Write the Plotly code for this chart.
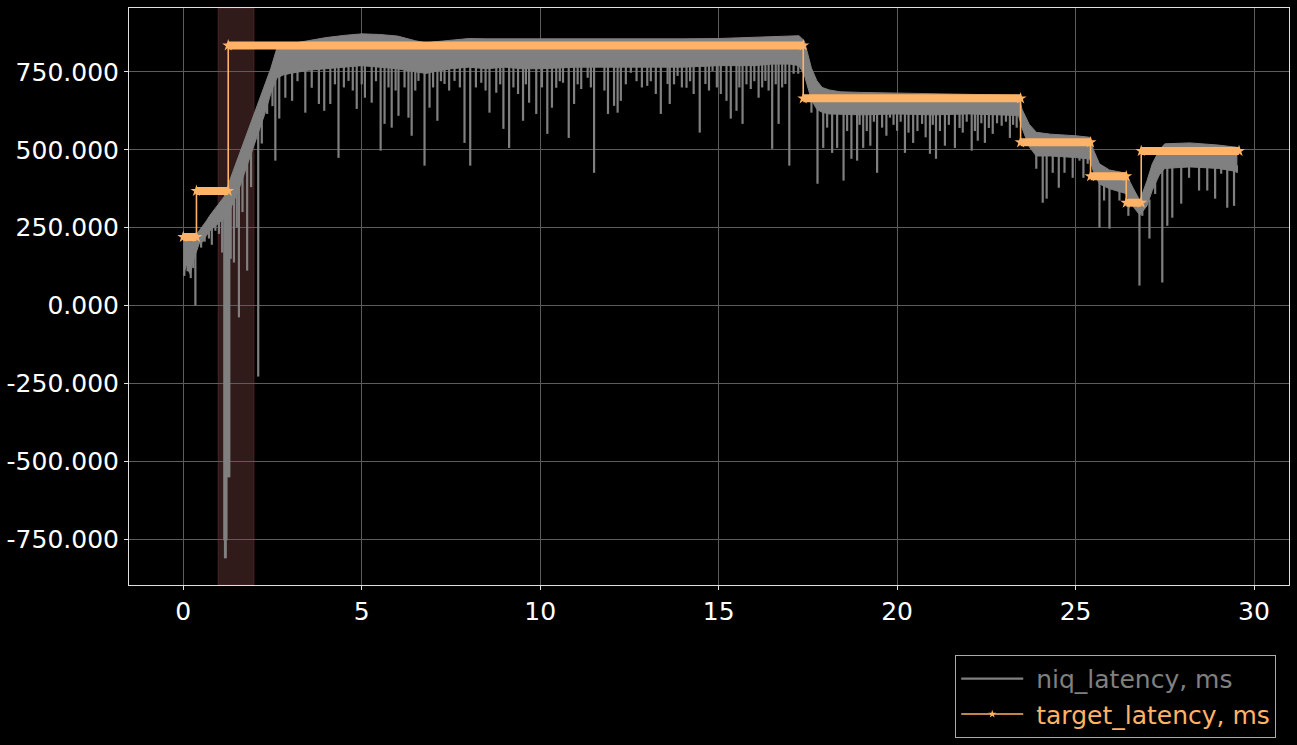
import plotly.graph_objects as go

# ---------------- data ----------------
# niq_latency, ms : dense band (upper envelope / lower edge of the dense part)
env_t = [0.00, 0.05, 0.10, 0.15, 0.20, 0.25, 0.30,
         0.37, 0.45, 0.55, 0.65, 0.75, 0.85, 0.95, 1.05, 1.15,
         1.28, 1.40, 1.55, 1.70, 1.85, 2.00, 2.15, 2.30, 2.45, 2.62,
         2.80, 3.00, 3.50, 4.00, 4.50, 5.00, 5.50, 6.00, 6.50, 6.80,
         7.00, 7.50, 8.00, 8.50, 9.00, 9.50, 10.0, 11.0, 12.0, 13.0,
         14.0, 15.0, 16.0, 16.5, 17.0, 17.25, 17.40, 17.50, 17.60, 17.75,
         17.90, 18.10, 18.40, 19.0, 20.0, 21.0, 22.0, 23.0, 23.40, 23.50,
         23.70, 23.90, 24.30, 25.00, 25.40, 25.50, 25.67, 25.95, 26.40, 26.60,
         26.80, 27.00, 27.15, 27.35, 27.50, 28.20, 29.00, 29.52]
env_top = [222, 222, 222, 222, 222, 222, 222,
           228, 240, 258, 272, 290, 305, 320, 335, 350,
           395, 432, 478, 525, 572, 620, 666, 712, 760, 825,
           835, 840, 850, 860, 867, 872, 870, 865, 850, 843,
           846, 852, 857, 856, 856, 855, 855, 855, 854, 855,
           856, 857, 860, 862, 864, 866, 850, 805, 762, 722,
           700, 692, 686, 684, 682, 680, 678, 676, 675, 630,
           582, 556, 550, 545, 540, 500, 455, 435, 425, 380,
           337, 400, 455, 500, 519, 522, 515, 508]
env_low = [100, 115, 135, 110, 100, 130, 150,
           175, 200, 205, 225, 240, 250, 260, 270, 280,
           300, 330, 370, 420, 470, 520, 570, 620, 680, 730,
           740, 745, 755, 760, 765, 770, 765, 760, 750, 745,
           750, 760, 765, 760, 765, 760, 760, 765, 765, 765,
           765, 770, 770, 775, 775, 770, 740, 700, 660, 630,
           620, 615, 615, 612, 615, 612, 615, 612, 610, 570,
           510, 480, 480, 475, 470, 430, 390, 375, 360, 320,
           290, 320, 370, 420, 440, 445, 440, 430]

# niq_latency, ms : downward spikes (time, level inside band, spike minimum)
niq_spikes = [
    (0.03, 150, 95), (0.12, 150, 110), (0.21, 150, 88), (0.28, 160, 120),
    (0.34, 180, 0), (0.50, 215, 186), (0.60, 230, 205), (0.72, 250, 215),
    (0.80, 260, 195), (0.90, 270, 240), (1.00, 280, 230), (1.09, 300, 170),
    (1.15, 310, -753), (1.17, 310, -811), (1.19, 310, -811), (1.21, 310, -753),
    (1.23, 320, -551), (1.26, 320, -551), (1.29, 320, -551), (1.33, 330, 150),
    (1.42, 360, 138), (1.50, 390, 250), (1.56, 400, -38), (1.66, 440, 300),
    (1.79, 480, 112), (1.90, 520, 380), (2.10, 580, -228), (2.20, 620, 520),
    (2.35, 660, 615), (2.50, 700, 640), (2.58, 740, 465), (2.69, 760, 600),
    (2.86, 790, 667), (3.05, 790, 657), (3.20, 790, 720), (3.42, 790, 619),
    (3.60, 790, 699), (3.80, 790, 647), (3.95, 790, 625), (4.12, 790, 647),
    (4.25, 790, 710), (4.35, 790, 474), (4.50, 790, 700), (4.63, 790, 721),
    (4.75, 790, 690), (4.86, 790, 631), (5.00, 790, 710), (5.09, 790, 667),
    (5.28, 790, 651), (5.40, 790, 720), (5.53, 790, 497), (5.64, 790, 583),
    (5.75, 790, 700), (5.84, 790, 571), (5.95, 790, 690), (6.03, 790, 609),
    (6.20, 790, 700), (6.31, 790, 603), (6.40, 790, 545), (6.50, 790, 690),
    (6.59, 790, 721), (6.76, 790, 449), (6.90, 790, 635), (7.00, 790, 700),
    (7.12, 790, 593), (7.22, 790, 720), (7.32, 790, 711), (7.45, 790, 690),
    (7.60, 790, 721), (7.75, 790, 700), (7.88, 790, 522), (8.04, 790, 449),
    (8.20, 790, 700), (8.35, 790, 715), (8.47, 790, 690), (8.58, 790, 619),
    (8.77, 790, 683), (8.88, 790, 710), (8.97, 790, 567), (9.13, 790, 506),
    (9.25, 790, 700), (9.38, 790, 679), (9.52, 790, 593), (9.60, 790, 710),
    (9.69, 790, 651), (9.89, 790, 615), (10.05, 790, 700), (10.20, 790, 551),
    (10.33, 790, 635), (10.45, 790, 699), (10.55, 790, 720), (10.64, 790, 715),
    (10.80, 790, 538), (10.95, 790, 647), (11.05, 790, 710), (11.15, 790, 695),
    (11.33, 790, 731), (11.42, 790, 700), (11.51, 790, 426), (11.70, 790, 776),
    (11.80, 790, 690), (11.90, 790, 615), (12.07, 790, 641), (12.17, 790, 619),
    (12.26, 790, 657), (12.40, 790, 710), (12.54, 790, 747), (12.70, 790, 720),
    (12.85, 790, 700), (13.00, 790, 705), (13.10, 790, 720), (13.24, 790, 679),
    (13.38, 790, 615), (13.57, 790, 711), (13.63, 790, 647), (13.75, 790, 710),
    (13.85, 790, 737), (13.97, 790, 700), (14.10, 790, 699), (14.20, 790, 720),
    (14.30, 790, 679), (14.47, 790, 555), (14.63, 790, 711), (14.73, 790, 690),
    (14.83, 790, 753), (14.95, 790, 700), (15.06, 790, 679), (15.22, 790, 657),
    (15.34, 790, 600), (15.50, 790, 625), (15.58, 790, 700), (15.67, 790, 583),
    (15.78, 790, 710), (15.90, 790, 695), (16.00, 790, 720), (16.12, 790, 667),
    (16.22, 790, 700), (16.31, 790, 721), (16.40, 790, 690), (16.50, 790, 503),
    (16.60, 790, 710), (16.68, 790, 583), (16.78, 790, 700), (16.87, 790, 711),
    (16.98, 790, 449), (17.10, 790, 744), (17.23, 790, 744),
    (17.60, 700, 619), (17.77, 660, 391), (17.93, 640, 506), (18.04, 640, 571),
    (18.18, 640, 490), (18.32, 640, 506), (18.50, 640, 401), (18.60, 640, 560),
    (18.72, 640, 471), (18.88, 640, 465), (18.95, 640, 580), (19.05, 640, 506),
    (19.15, 640, 560), (19.25, 640, 513), (19.35, 640, 590), (19.44, 640, 426),
    (19.58, 640, 571), (19.70, 640, 545), (19.80, 640, 603), (19.90, 640, 580),
    (20.00, 640, 561), (20.10, 640, 590), (20.22, 640, 490), (20.32, 640, 555),
    (20.45, 640, 522), (20.57, 640, 560), (20.70, 640, 583), (20.80, 640, 540),
    (20.92, 640, 487), (21.00, 640, 580), (21.09, 640, 471), (21.20, 640, 560),
    (21.34, 640, 513), (21.45, 640, 580), (21.62, 640, 506), (21.75, 640, 570),
    (21.84, 640, 555), (21.95, 640, 590), (22.09, 640, 497), (22.18, 640, 560),
    (22.26, 640, 529), (22.36, 640, 585), (22.46, 640, 522), (22.57, 640, 570),
    (22.68, 640, 551), (22.80, 640, 585), (22.93, 640, 577), (23.05, 640, 590),
    (23.16, 640, 538), (23.25, 640, 580), (23.35, 640, 571),
    (23.72, 560, 538), (23.90, 520, 439), (24.08, 500, 330), (24.19, 500, 343),
    (24.36, 500, 426), (24.53, 500, 378), (24.69, 500, 426), (24.92, 500, 410),
    (25.11, 500, 465), (25.22, 500, 410), (25.34, 500, 455),
    (25.67, 420, 250), (25.80, 400, 337), (25.95, 400, 247), (26.23, 390, 337),
    (26.48, 370, 288), (26.79, 310, 64), (26.87, 310, 288), (27.07, 340, 215),
    (27.23, 400, 358), (27.43, 450, 74), (27.57, 460, 256), (27.71, 460, 282),
    (27.96, 460, 327), (28.18, 460, 410), (28.46, 460, 369), (28.69, 460, 369),
    (28.91, 460, 343), (29.08, 460, 423), (29.25, 460, 314), (29.44, 460, 320),
    (29.52, 450, 426),
]

# target_latency, ms : step function
target_change_t = [0.0, 0.37, 1.26, 17.37, 23.46, 25.42, 26.42, 26.84]
target_end_t = 29.58
target_ms = [220, 368, 835, 665, 524, 415, 330, 496]

# highlighted interval
band_t = (0.98, 1.98)

x_ticks = [0, 5, 10, 15, 20, 25, 30]
y_ticks = [-750, -500, -250, 0, 250, 500, 750]

# ---------------- styling ----------------
GRAY = "#808080"
ORANGE = "#ffb366"
FONT = "DejaVu Sans"

fig = go.Figure()

# dense band of niq_latency
fig.add_trace(go.Scatter(
    x=env_t + env_t[::-1], y=env_top + env_low[::-1],
    mode="lines", fill="toself", fillcolor=GRAY,
    line=dict(color=GRAY, width=1), legendgroup="niq",
    showlegend=False, hoverinfo="skip"))

# spikes of niq_latency
sx, sy = [], []
for t, base, low in niq_spikes:
    sx += [t, t, None]
    sy += [base, low, None]
fig.add_trace(go.Scatter(
    x=sx, y=sy, mode="lines", line=dict(color=GRAY, width=2.2),
    legendgroup="niq",
    name=f"\u00a0<span style='color:{GRAY}'>niq_latency, ms</span>"))

# target plateaus (thick dense marker band)
bounds = target_change_t + [target_end_t]
px_, py_ = [], []
for i, v in enumerate(target_ms):
    px_ += [bounds[i], bounds[i + 1], None]
    py_ += [v, v, None]
fig.add_trace(go.Scatter(
    x=px_, y=py_, mode="lines+markers",
    line=dict(color=ORANGE, width=8),
    marker=dict(symbol="star", size=9, color=ORANGE),
    showlegend=False, hoverinfo="skip"))

# target step line (legend entry)
fig.add_trace(go.Scatter(
    x=bounds, y=target_ms + [target_ms[-1]], mode="lines+markers",
    line=dict(color=ORANGE, width=1.6, shape="hv"),
    marker=dict(symbol="star", size=6, color=ORANGE),
    name=f"\u00a0<span style='color:{ORANGE}'>target_latency, ms</span>"))

fig.add_shape(type="rect", xref="x", yref="paper",
              x0=band_t[0], x1=band_t[1], y0=0, y1=1,
              fillcolor="#311a1a", line=dict(color="#4a2424", width=1),
              layer="between")

axis_common = dict(
    showgrid=True, gridcolor="#5c5c5c", gridwidth=1,
    showline=True, linecolor="#e0e0e0", linewidth=1, mirror=True,
    ticks="outside", ticklen=4, tickcolor="#e0e0e0",
    zeroline=False, tickfont=dict(family=FONT, size=25, color="white"))

fig.update_layout(
    width=1297, height=745,
    paper_bgcolor="black", plot_bgcolor="black",
    margin=dict(l=127, r=7, t=7, b=160),
    font=dict(family=FONT, size=25, color="white"),
    xaxis=dict(range=[-1.52, 30.98], tickvals=x_ticks,
               ticktext=[str(v) for v in x_ticks], **axis_common),
    yaxis=dict(range=[-897, 955], tickvals=y_ticks,
               ticktext=[f"{v:.3f}" for v in y_ticks], **axis_common),
    legend=dict(x=0.989, xanchor="right", y=-0.121, yanchor="top",
                bgcolor="black", bordercolor="#aaaaaa", borderwidth=1,
                font=dict(family=FONT, size=25), itemwidth=62,
                tracegroupgap=0),
    showlegend=True,
)

fig.write_html(
    "out.html",
    config={"displayModeBar": False},
    post_script="document.body.style.margin='0';"
                "document.body.style.overflow='hidden';"
                "document.body.style.background='black';")
